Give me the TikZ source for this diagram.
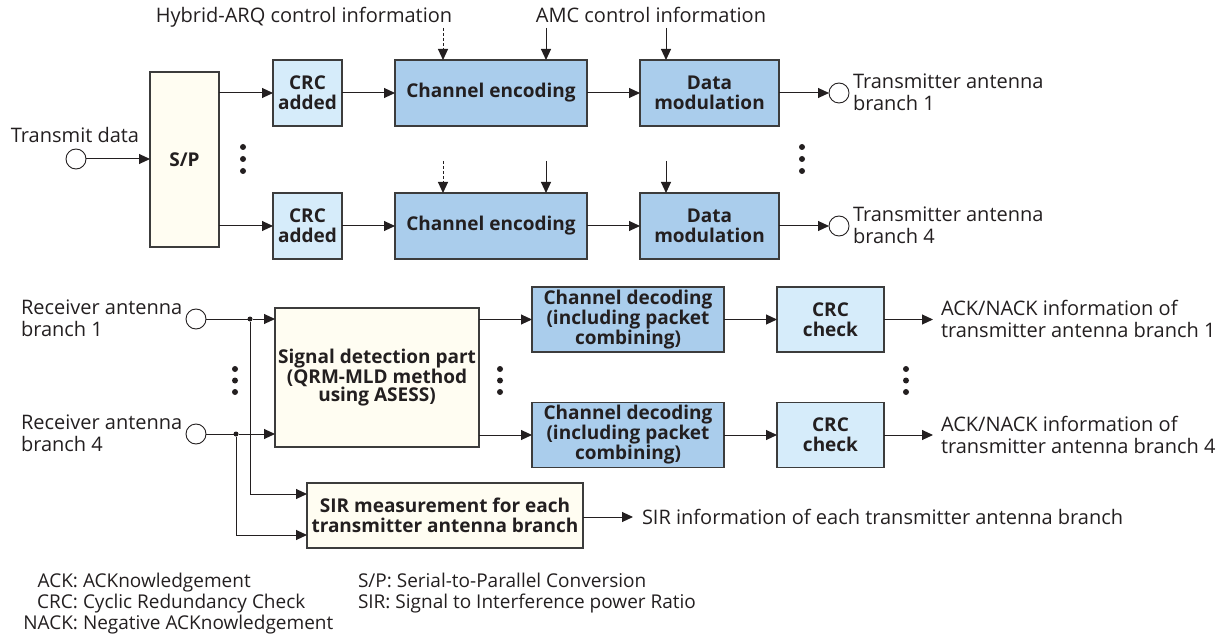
\documentclass[tikz,border=0pt]{standalone}
\usepackage{fontspec}
\setmainfont{Open Sans}
\newfontfamily\legfont{Open Sans}
\usetikzlibrary{arrows.meta}
\definecolor{cream}{RGB}{255,253,242}
\definecolor{lblue}{RGB}{214,236,250}
\definecolor{mblue}{RGB}{170,205,236}
\definecolor{ink}{RGB}{35,31,32}
\definecolor{edge}{RGB}{60,60,60}
\tikzset{
  every node/.style={inner sep=0pt, outer sep=0pt, text=ink},
  blk/.style={draw=edge, line width=1.3pt, align=center,
    font=\fontsize{19}{20}\selectfont\bfseries},
  creambox/.style={blk, fill=cream},
  lightbox/.style={blk, fill=lblue},
  midbox/.style={blk, fill=mblue},
  port/.style={circle, draw=ink, fill=white, line width=0.9pt, minimum size=20pt},
  lbl/.style={font=\fontsize{20}{22}\selectfont, align=left},
  leg/.style={font=\legfont\fontsize{19}{21}\selectfont},
  conn/.style={draw=ink, line width=1pt, -{Triangle[length=11pt,width=10pt]}},
  plain/.style={draw=ink, line width=1pt},
  junc/.style={circle, fill=ink, minimum size=5pt},
  vdot/.style={circle, fill=ink, minimum size=6pt}
}
\begin{document}
\begin{tikzpicture}[x=1pt,y=-1pt]
\useasboundingbox (0,0) rectangle (1228,636);
% ---------- transmitter ----------
\node[creambox, minimum width=69pt, minimum height=175pt] (sp) at (184.5,159.5) {S/P};
\node[lightbox, minimum width=69pt, minimum height=66pt] (crc1) at (307.5,93) {CRC\\added};
\node[lightbox, minimum width=69pt, minimum height=66pt] (crc4) at (307.5,226) {CRC\\added};
\node[midbox, minimum width=192pt, minimum height=66pt] (ce1) at (491,93) {Channel encoding};
\node[midbox, minimum width=192pt, minimum height=66pt] (ce4) at (491,226) {Channel encoding};
\node[midbox, minimum width=139pt, minimum height=66pt] (dm1) at (709.5,93) {Data\\modulation};
\node[midbox, minimum width=139pt, minimum height=66pt] (dm4) at (709.5,226) {Data\\modulation};
\node[port] (tin) at (76,159) {};
\node[port] (to1) at (839,93) {};
\node[port] (to4) at (839,226) {};
\node[lbl, anchor=base] (tdl) at (75,143) {Transmit data};
\node[lbl, anchor=west] (to1l) at (853,92) {Transmitter antenna\\branch 1};
\node[lbl, anchor=west] (to4l) at (853,225) {Transmitter antenna\\branch 4};
\node[lbl, anchor=base] (harq) at (304,23) {Hybrid-ARQ control information};
\node[lbl, anchor=base] (amc) at (651,23) {AMC control information};
\coordinate (h1) at (443,28);
\coordinate (a1) at (546,28);
\coordinate (m1) at (666,28);
\coordinate (h4) at (443,161);
\coordinate (a4) at (546,161);
\coordinate (m4) at (666,161);
\draw[conn] (tin) -- (sp.west |- tin);
\draw[conn] (sp.east |- crc1) -- (crc1);
\draw[conn] (sp.east |- crc4) -- (crc4);
\draw[conn] (crc1) -- (ce1);
\draw[conn] (crc4) -- (ce4);
\draw[conn] (ce1) -- (dm1);
\draw[conn] (ce4) -- (dm4);
\draw[conn] (dm1) -- (to1);
\draw[conn] (dm4) -- (to4);
\draw[conn, dashed, dash pattern=on 3pt off 2pt] (h1) -- (h1 |- ce1.north);
\draw[conn] (a1) -- (a1 |- ce1.north);
\draw[conn] (m1) -- (m1 |- dm1.north);
\draw[conn, dashed, dash pattern=on 3pt off 2pt] (h4) -- (h4 |- ce4.north);
\draw[conn] (a4) -- (a4 |- ce4.north);
\draw[conn] (m4) -- (m4 |- dm4.north);
\foreach \n/\x/\y in {d1/243/147, d2/243/159, d3/243/171, d4/802/147, d5/802/159, d6/802/171,
  d7/235/369, d8/235/380.5, d9/235/392, d10/500/369, d11/500/380.5, d12/500/392,
  d13/906/369, d14/906/380.5, d15/906/392}
  \node[vdot] (\n) at (\x,\y) {};
% ---------- receiver ----------
\node[creambox, minimum width=204pt, minimum height=139pt, font=\fontsize{19}{18}\selectfont\bfseries] (sd) at (377,377.5)
  {Signal detection part\\(QRM-MLD method\\using ASESS)};
\node[midbox, minimum width=192pt, minimum height=65pt, font=\fontsize{19}{18.5}\selectfont\bfseries] (cd1) at (628,319.5)
  {Channel decoding\\(including packet\\combining)};
\node[midbox, minimum width=192pt, minimum height=65pt, font=\fontsize{19}{18.5}\selectfont\bfseries] (cd4) at (628,435)
  {Channel decoding\\(including packet\\combining)};
\node[lightbox, minimum width=107pt, minimum height=65pt] (cc1) at (830.5,319.5) {CRC\\check};
\node[lightbox, minimum width=107pt, minimum height=65pt] (cc4) at (830.5,435) {CRC\\check};
\node[creambox, minimum width=276pt, minimum height=65pt] (sir) at (445,515.5)
  {SIR measurement for each\\transmitter antenna branch};
\node[port] (ri1) at (196,319) {};
\node[port] (ri4) at (196,434) {};
\node[lbl, anchor=west] (ri1l) at (21,318.5) {Receiver antenna\\branch 1};
\node[lbl, anchor=west] (ri4l) at (21,433.5) {Receiver antenna\\branch 4};
\node[junc] (j1) at (250,319) {};
\node[junc] (j4) at (236,434) {};
\coordinate (k1) at (250,494);
\coordinate (k4) at (236,535);
\draw[plain] (ri1) -- (j1);
\draw[plain] (ri4) -- (j4);
\draw[conn] (j1) -- (sd.west |- j1);
\draw[conn] (j4) -- (sd.west |- j4);
\draw[conn] (j1) -- (k1) -- (sir.west |- k1);
\draw[conn] (j4) -- (k4) -- (sir.west |- k4);
\draw[conn] (sd.east |- cd1) -- (cd1);
\draw[conn] (sd.east |- cd4) -- (cd4);
\draw[conn] (cd1) -- (cc1);
\draw[conn] (cd4) -- (cc4);
\coordinate (e1) at (933,319.5);
\coordinate (e4) at (933,435);
\coordinate (es) at (633,517);
\draw[conn] (cc1) -- (e1);
\draw[conn] (cc4) -- (e4);
\draw[conn] (sir.east |- es) -- (es);
\node[lbl, anchor=west] (ack1) at (941,319) {ACK/NACK information of\\transmitter antenna branch 1};
\node[lbl, anchor=west] (ack4) at (941,434.5) {ACK/NACK information of\\transmitter antenna branch 4};
\node[lbl, anchor=west] (sirl) at (642,517) {SIR information of each transmitter antenna branch};
% ---------- legend ----------
\node[leg, anchor=base east] (l1a) at (78,587) {ACK:};
\node[leg, anchor=base west] (l1b) at (83,587) {ACKnowledgement};
\node[leg, anchor=base east] (l2a) at (78,608) {CRC:};
\node[leg, anchor=base west] (l2b) at (83,608) {Cyclic Redundancy Check};
\node[leg, anchor=base east] (l3a) at (78,629) {NACK:};
\node[leg, anchor=base west] (l3b) at (83,629) {Negative ACKnowledgement};
\node[leg, anchor=base west] (l4) at (358,587) {S/P: Serial-to-Parallel Conversion};
\node[leg, anchor=base west] (l5) at (358,608) {SIR: Signal to Interference power Ratio};
\end{tikzpicture}
\end{document}
